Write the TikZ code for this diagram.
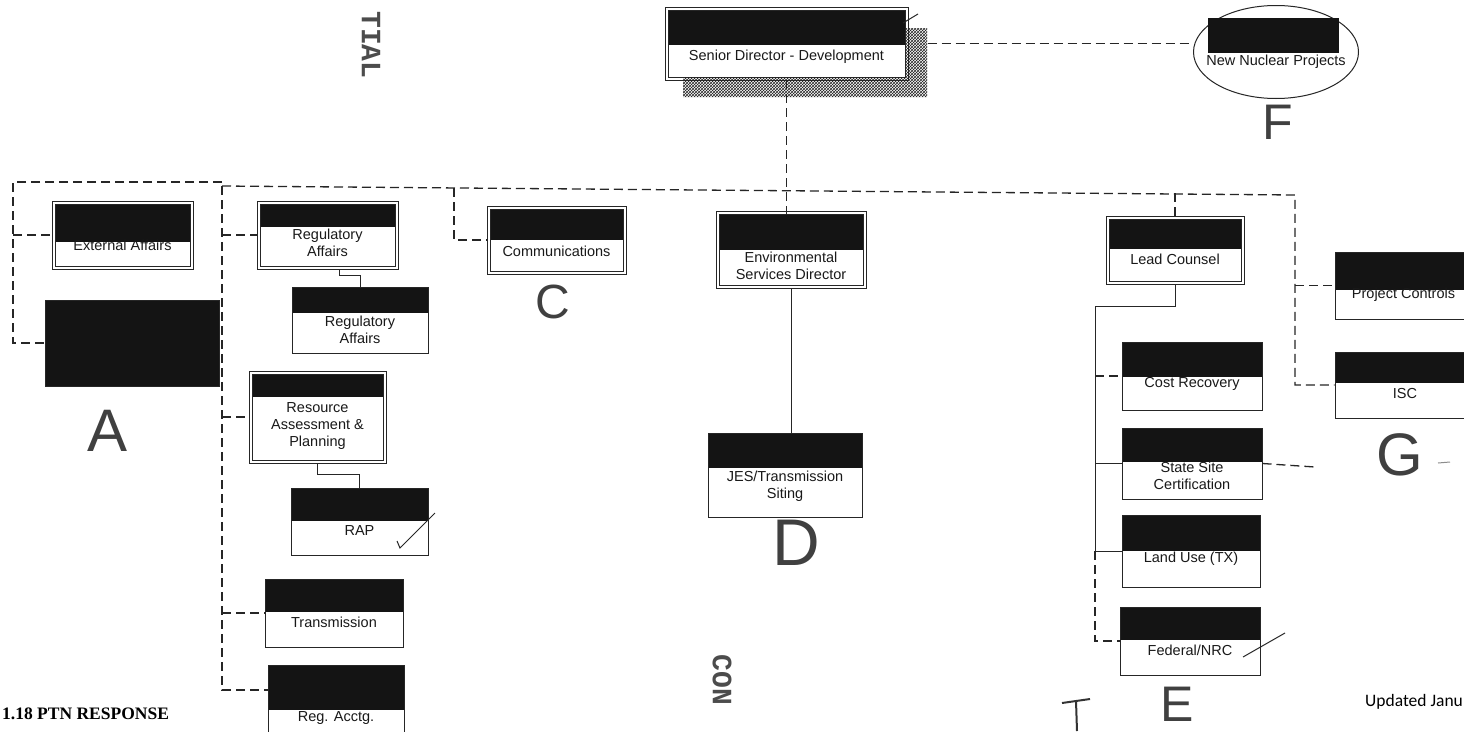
\documentclass[tikz,border=0pt]{standalone}
\usepackage{fontspec}
\newfontfamily\arialish{Liberation Sans}
\newfontfamily\serifish{Liberation Serif}
\newfontfamily\calib{Carlito}
\newfontfamily\stampfont{Liberation Mono}
\usetikzlibrary{positioning,fit,patterns,shapes.geometric}

\begin{document}
\begin{tikzpicture}[
  x=1pt, y=-1pt,
  box/.style={rectangle, draw=black!85, line width=1pt, fill=white, inner sep=0pt},
  bar/.style={path picture={\fill[black!92] (path picture bounding box.north west) rectangle ([yshift=-#1pt]path picture bounding box.north east);}},
  lbl/.style={font=\arialish\fontsize{14.5}{17}\selectfont, align=center, inner sep=0pt, text=black!90},
  hand/.style={font=\arialish\fontsize{#1}{#1}\selectfont, text=black!75, inner sep=0pt},
  stamp/.style={font=\stampfont\bfseries\fontsize{28}{28}\selectfont, text=black!70, rotate=-90, inner sep=0pt},
  dsh/.style={draw=black!85, line width=1.3pt, dash pattern=on 9pt off 5pt},
  conn/.style={draw=black!85, line width=1pt}
]
\fill[white] (0,0) rectangle (1464,731);
\useasboundingbox (0,0) rectangle (1464,731);

% top of the chart
\fill[pattern=crosshatch, pattern color=black!85] (683,77) -- (905,77) -- (905,28) -- (927,28) -- (927,97) -- (683,97) -- cycle;
\node[box, bar=35, fit={(668,10) (905,77)}] (sd) {};
\node[lbl] (sd-t) at (786.5,57) {Senior Director - Development};
\node[ellipse, draw=black!85, line width=1pt, minimum width=165pt, minimum height=93pt, inner sep=0pt] (nnp) at (1276,52) {};
\node[box, draw=none, fill=black!92, fit={(1208,18) (1339,53)}] (nnp-b) {};
\node[lbl] (nnp-t) at (1276,62) {New Nuclear Projects};

% left groups
\node[box, bar=38, fit={(55,204) (190,266)}] (extaff) {};
\node[lbl] (extaff-t) at (122.5,245) {External Affairs};
\node[box, fill=black!92, fit={(45,300) (219,386)}] (redact) {};
\node[box, bar=23, fit={(260,204) (395,266)}] (regaff) {};
\node[lbl] (regaff-t) at (327.5,243) {Regulatory\\Affairs};
\node[box, bar=26, fit={(292,287) (428,353)}] (regaff2) {};
\node[lbl] (regaff2-t) at (360,330) {Regulatory\\Affairs};
\node[box, bar=23, fit={(252,374) (383,460)}] (resplan) {};
\node[lbl] (resplan-t) at (317.5,426) {Resource\\Assessment \&\\Planning};
\node[box, bar=33, fit={(291,488) (428,555)}] (rap) {};
\node[lbl] (rap-t) at (359.5,531) {RAP};
\node[box, bar=33, fit={(265,579) (403,647)}] (trans) {};
\node[lbl] (trans-t) at (334,622) {Transmission};
\node[box, bar=45, fit={(268,665) (404,745)}] (regacct) {};
\node[lbl] (regacct-t) at (336,718) {Reg. Acctg.};

% middle groups
\node[box, bar=31, fit={(490,209) (623,271)}] (comm) {};
\node[lbl] (comm-t) at (556.5,251) {Communications};
\node[box, bar=36, fit={(719,214) (863,285)}] (envsvc) {};
\node[lbl] (envsvc-t) at (791,266) {Environmental\\Services Director};
\node[box, bar=35, fit={(708,433) (862,517)}] (jes) {};
\node[lbl] (jes-t) at (785,486) {JES/Transmission\\Siting};

% right groups
\node[box, bar=30, fit={(1109,219) (1241,281)}] (lead) {};
\node[lbl] (lead-t) at (1175,259) {Lead Counsel};
\node[box, bar=35, fit={(1122,342) (1262,410)}] (costrec) {};
\node[lbl] (costrec-t) at (1192,384) {Cost Recovery};
\node[box, bar=34, fit={(1122,428) (1262,499)}] (sitecert) {};
\node[lbl] (sitecert-t) at (1192,476) {State Site\\Certification};
\node[box, bar=36, fit={(1122,515) (1260,587)}] (landuse) {};
\node[lbl] (landuse-t) at (1191,559) {Land Use (TX)};
\node[box, bar=33, fit={(1120,607) (1260,675)}] (fednrc) {};
\node[lbl] (fednrc-t) at (1190,650) {Federal/NRC};
\node[box, bar=38, fit={(1335,252) (1472,319)}] (projctl) {};
\node[lbl] (projctl-t) at (1403.5,295) {Project Controls};
\node[box, bar=31, fit={(1335,352) (1472,418)}] (isc) {};
\node[lbl] (isc-t) at (1405,394) {ISC};

% outer frame of the double-ruled boxes
\foreach \n in {sd,extaff,regaff,resplan,comm,envsvc,lead}
  \draw[conn] ([shift={(-2.5pt,2.5pt)}]\n.north west) rectangle ([shift={(2.5pt,-2.5pt)}]\n.south east);

% bus points
\coordinate (nwL) at (13,182);
\coordinate (nwM) at (222,182);
\coordinate (busM) at (222,186);
\coordinate (busC) at (454,188);
\coordinate (busL) at (1175,193);
\coordinate (busR) at (1295,195);
\coordinate (lcj) at (1095,306);
\coordinate (sitex) at (1315,467);

% connectors
\draw[dsh] ([xshift=22pt]sd.east) -- (sd.east -| nnp.west);
\draw[dsh] ([yshift=-2.5pt]sd.south) -- (sd.south |- envsvc.north);
\draw[dsh] (nwM) -- (nwL) |- (redact.west);
\draw[dsh] (nwL |- extaff.west) -- ([xshift=-2.5pt]extaff.west);
\draw[dsh] (busM) -- (busR) |- (isc.west);
\draw[dsh] (busM) |- ([yshift=15pt]regacct.west);
\draw[dsh] (busM |- regaff.west) -- ([xshift=-2.5pt]regaff.west);
\draw[dsh] (busM |- resplan.west) -- ([xshift=-2.5pt]resplan.west);
\draw[dsh] (busM |- trans.west) -- (trans.west);
\draw[dsh] (busC) |- ([xshift=-2.5pt]comm.west);
\draw[dsh] (busL) -- ([yshift=2.5pt]lead.north);
\draw[dsh] (busR |- projctl.west) -- (projctl.west);
\draw[conn] ([yshift=-2.5pt]envsvc.south) -- (envsvc.south |- jes.north);
\draw[conn] ([xshift=12pt, yshift=-2.5pt]regaff.south) -- ++(0,6) -| (regaff2.north);
\draw[conn] ([yshift=-2.5pt]resplan.south) -- ++(0,11) -| (rap.north);
\draw[conn] ([yshift=-2.5pt]lead.south) |- (lcj) |- (landuse.west);
\draw[conn] (lcj |- sitecert.west) -- (sitecert.west);
\draw[dsh] (lcj |- costrec.west) -- (costrec.west);
\draw[dsh] (lcj |- landuse.west) |- (fednrc.west);
\draw[dsh] (sitecert.east) -- (sitex);

% hand marks
\node[hand=60] (lettA) at (108,431) {A};
\node[hand=48] (lettC) at (553,302) {C};
\node[hand=66] (lettD) at (796,543) {D};
\node[hand=50] (lettE) at (1177,704) {E};
\node[hand=50] (lettF) at (1278,122) {F};
\node[hand=60] (lettG) at (1400,455) {G};
\draw[conn] (903,23) -- (918,14);
\draw[conn] (397,541) -- (400,548) -- (435,513);
\draw[conn] (1243,657) -- (1285,633);
\draw[line width=2pt, black!80] (1062,703) -- (1090,699) (1076,701) -- (1077,731);
\draw[line width=1pt, black!45] (1438,463) -- (1450,462);

% stamps and page text
\node[stamp] (stamp-top) at (371,45) {TIAL};
\node[stamp] (stamp-bot) at (722,680) {CON};
\node[font=\serifish\bfseries\fontsize{17.5}{17.5}\selectfont, anchor=west, inner sep=0pt] (footL) at (2,714) {1.18 PTN RESPONSE};
\node[font=\calib\fontsize{17.5}{17.5}\selectfont, anchor=west, inner sep=0pt] (footR) at (1365,702) {Updated Janu};
\end{tikzpicture}
\end{document}
